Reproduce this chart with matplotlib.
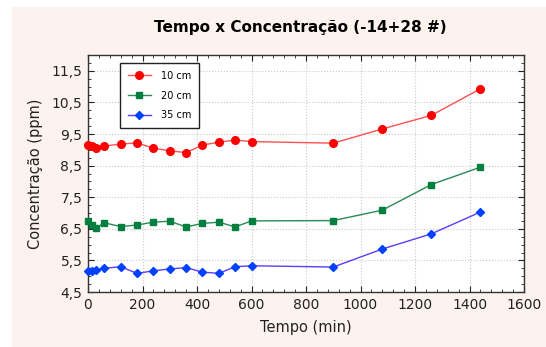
import matplotlib.pyplot as plt
from matplotlib.patches import Rectangle
from matplotlib.ticker import MultipleLocator, FixedLocator

tempo = [0, 15, 30, 60, 120, 180, 240, 300, 360, 420, 480, 540, 600,
         900, 1080, 1260, 1440]
c10 = [9.15, 9.12, 9.05, 9.12, 9.18, 9.22, 9.05, 8.97, 8.91, 9.15, 9.24,
       9.31, 9.26, 9.21, 9.66, 10.09, 10.93]
c20 = [6.76, 6.62, 6.52, 6.69, 6.57, 6.62, 6.71, 6.74, 6.56, 6.67, 6.71,
       6.56, 6.75, 6.76, 7.09, 7.90, 8.45]
c35 = [5.15, 5.17, 5.20, 5.25, 5.30, 5.09, 5.17, 5.23, 5.27, 5.13, 5.09,
       5.30, 5.33, 5.29, 5.86, 6.34, 7.03]

yticks = [4.5, 5.5, 6.5, 7.5, 8.5, 9.5, 10.5, 11.5]
xticks = [0, 200, 400, 600, 800, 1000, 1200, 1400, 1600]

fig = plt.figure(figsize=(5.46, 3.47), dpi=100)
fig.patch.set_facecolor('#fdf3ee')
# white strips along the top and left edges
fig.add_artist(Rectangle((0, 0), 12 / 546, 1, transform=fig.transFigure,
                         facecolor='white', edgecolor='none', zorder=-10))
fig.add_artist(Rectangle((0, 1 - 7 / 347), 1, 7 / 347,
                         transform=fig.transFigure, facecolor='white',
                         edgecolor='none', zorder=-10))

ax = fig.add_axes([88 / 546, 55 / 347, 436 / 546, 237 / 347])
ax.set_facecolor('white')

ax.plot(tempo, c10, color='#ff5050', lw=1, marker='o', ms=5.5,
        mfc='#ff0000', mec='#ff0000', label='10 cm', clip_on=False, zorder=3)
ax.plot(tempo, c20, color='#2a8a55', lw=1, marker='s', ms=5,
        mfc='#007f3f', mec='#007f3f', label='20 cm', clip_on=False, zorder=3)
ax.plot(tempo, c35, color='#5a3cff', lw=1, marker='D', ms=4.5,
        mfc='#0040ff', mec='#0040ff', label='35 cm', clip_on=False, zorder=3)

ax.set_xlim(0, 1600)
ax.set_ylim(4.5, 12)
ax.xaxis.set_major_locator(FixedLocator(xticks))
ax.xaxis.set_minor_locator(MultipleLocator(40))
ax.yaxis.set_major_locator(FixedLocator(yticks))
ax.yaxis.set_minor_locator(MultipleLocator(0.25))
ax.set_xticklabels([str(x) for x in xticks])
ax.set_yticklabels([('%.1f' % y).replace('.', ',') for y in yticks])

ax.tick_params(which='both', direction='in', top=True, right=True,
               colors='#222222', labelsize=10)
ax.tick_params(which='major', length=4, width=0.8, pad=4)
ax.tick_params(which='minor', length=2.5, width=0.6)
ax.grid(True, which='major', color='#c8c8c8', ls=':', lw=0.8)
for s in ax.spines.values():
    s.set_color('#333333')
    s.set_linewidth(1)

ax.set_xlabel('Tempo (min)', fontsize=10.5, labelpad=6, color='#222222')
ax.set_ylabel('Concentração (ppm)', fontsize=10.5, labelpad=6,
              color='#222222')
fig.text(0.55, 0.92, 'Tempo x Concentração (-14+28 #)', ha='center',
         va='center', fontsize=11, fontweight='bold')

leg = ax.legend(loc='upper left', bbox_to_anchor=(0.073, 0.966),
                borderaxespad=0, fontsize=7, fancybox=False, framealpha=1,
                edgecolor='#222222', borderpad=0.8, labelspacing=1.0,
                handlelength=2.4, handletextpad=1.0)
leg.get_frame().set_linewidth(1)

fig.savefig('out.png', dpi=100, facecolor=fig.get_facecolor())
